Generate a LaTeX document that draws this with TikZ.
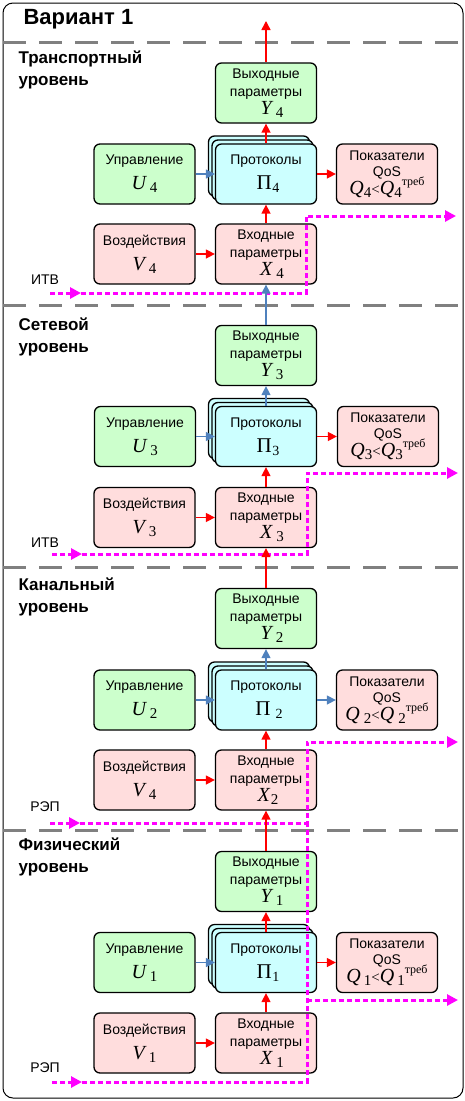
\documentclass[tikz,border=0pt]{standalone}
\usepackage{fontspec}
\setmainfont{Liberation Sans}
\newfontfamily\tnr{Liberation Serif}
\usetikzlibrary{arrows.meta}

\definecolor{grn}{HTML}{CCFFCC}
\definecolor{pnk}{HTML}{FFDDDD}
\definecolor{cyn}{HTML}{CCFFFF}
\definecolor{blu}{HTML}{4F81BD}
\definecolor{mgn}{HTML}{FF00FF}

% variable with a subscript, like Y_4
\newcommand{\vr}[3][4pt]{{\tnr\fontsize{20}{20}\selectfont\itshape #2}\hspace{#1}\raisebox{-3pt}{\tnr\fontsize{15}{15}\selectfont #3}}
% protocol symbol
\newcommand{\prt}[2][0.5pt]{{\tnr\fontsize{21}{21}\selectfont Π}\hspace{#1}\raisebox{-3pt}{\tnr\fontsize{14}{14}\selectfont #2}}
% QoS requirement
\newcommand{\qreq}[2][0pt]{\vr[#1]{Q}{#2}{\tnr\fontsize{15}{15}\selectfont<}\vr[#1]{Q}{#2}\raisebox{9pt}{\tnr\fontsize{12}{12}\selectfont треб}}

\begin{document}
\begin{tikzpicture}[x=1pt,y=-1pt,
    box/.style={draw, line width=1.3pt, rounded corners=6pt, minimum width=101pt,
        minimum height=60pt, inner sep=0pt, align=center, font=\fontsize{14}{18}\selectfont},
    gbox/.style={box, fill=grn},
    rbox/.style={box, fill=pnk},
    cbox/.style={box, fill=cyn},
    ra/.style={red, line width=1.5pt, -{Triangle[length=9pt,width=9pt]}},
    ba/.style={blu, line width=1.5pt, -{Triangle[length=9pt,width=9pt]}},
    mg/.style={mgn, line width=3pt, dash pattern=on 5pt off 3pt},
    mga/.style={mg, -{Triangle[length=11pt,width=11pt]}},
    sep/.style={gray, line width=3pt, dash pattern=on 23pt off 13pt},
    level/.style={anchor=north west, align=left, font=\bfseries\fontsize{17}{22}\selectfont},
    src/.style={font=\fontsize{14}{16}\selectfont}]

\useasboundingbox (0,0) rectangle (464,1101);
\draw[line width=1pt, rounded corners=10pt] (3,3) rectangle (463,1098);

\node[anchor=west, font=\bfseries\fontsize{22}{24}\selectfont] (title) at (20,19) {Вариант 1};

\draw[sep] (3,42) -- (464,42);
\draw[sep] (3,305) -- (464,305);
\draw[sep] (3,567) -- (464,567);
\draw[sep] (3,830) -- (464,830);

% transport level
\node[level] (lev4) at (15,47) {Транспортный\\уровень};
\node[gbox] (y4) at (266,93) {Выходные\\параметры\\\hspace*{12pt}\vr{Y}{4}};
\node[cbox] (pi4a) at (259,166) {};
\node[cbox] (pi4b) at (262.5,170) {};
\node[cbox] (pi4) at (266,174) {Протоколы\\[7pt]\hspace*{4pt}\prt{4}};
\node[gbox] (u4) at (144.5,174) {Управление\\[7pt]\vr{U}{4}};
\node[rbox] (q4) at (387,174) {Показатели\\[-2pt]QoS\\[-3pt]\qreq{4}};
\node[rbox] (v4) at (144.5,254) {Воздействия\\[7pt]\vr{V}{4}};
\node[rbox] (x4) at (266,254) {Входные\\параметры\\\hspace*{12pt}\vr{X}{4}};
\coordinate (top) at (266,21);

\draw[ra] (y4) -- (top);
\draw[ra] (pi4) -- (y4);
\draw[ba] (u4) -- (pi4);
\draw[ra] (pi4) -- (q4);
\draw[ra] (x4) -- (pi4);
\draw[ra] (v4) -- (x4);

\node[src] (itv4) at (45,280) {ИТВ};
\coordinate (m4a) at (50,293);
\coordinate (m4b) at (81,293);
\coordinate (m4c) at (306,293);
\coordinate (m4d) at (306,216);
\coordinate (m4e) at (456,216);
\draw[mga] (m4a) -- (m4b);
\draw[mga] (m4b) -- (m4c) -- (m4d) -- (m4e);

% network level
\node[level] (lev3) at (15,314) {Сетевой\\уровень};
\node[gbox] (y3) at (266,355.5) {Выходные\\параметры\\\hspace*{12pt}\vr{Y}{3}};
\node[cbox] (pi3a) at (259,428.5) {};
\node[cbox] (pi3b) at (262.5,432.5) {};
\node[cbox] (pi3) at (266,436.5) {Протоколы\\[7pt]\hspace*{4pt}\prt{3}};
\node[gbox] (u3) at (145,436.5) {Управление\\[7pt]\vr{U}{3}};
\node[rbox] (q3) at (388,436.5) {Показатели\\[-2pt]QoS\\[-3pt]\qreq{3}};
\node[rbox] (v3) at (144.5,517.5) {Воздействия\\[7pt]\vr{V}{3}};
\node[rbox] (x3) at (266,517.5) {Входные\\параметры\\\hspace*{12pt}\vr{X}{3}};

\draw[ba] (y3) -- (x4);
\draw[ba] (pi3) -- (y3);
\draw[ba] (u3) -- (pi3);
\draw[ra] (pi3) -- (q3);
\draw[ra] (x3) -- (pi3);
\draw[ra] (v3) -- (x3);

\node[src] (itv3) at (45,543) {ИТВ};
\coordinate (m3a) at (52,554);
\coordinate (m3b) at (82,554);
\coordinate (m3c) at (307,554);
\coordinate (m3d) at (307,473);
\coordinate (m3e) at (458,473);
\draw[mga] (m3a) -- (m3b);
\draw[mga] (m3b) -- (m3c) -- (m3d) -- (m3e);

% channel level
\node[level] (lev2) at (15,574) {Канальный\\уровень};
\node[gbox] (y2) at (266,618.5) {Выходные\\параметры\\\hspace*{12pt}\vr{Y}{2}};
\node[cbox] (pi2a) at (259,692) {};
\node[cbox] (pi2b) at (262.5,696) {};
\node[cbox] (pi2) at (266,700) {Протоколы\\[7pt]\hspace*{6pt}\prt[5pt]{2}};
\node[gbox] (u2) at (144.5,700) {Управление\\[7pt]\vr{U}{2}};
\node[rbox] (q2) at (387,700) {Показатели\\[-2pt]QoS\\[-3pt]\qreq[4pt]{2}};
\node[rbox] (v2) at (144.5,780) {Воздействия\\[7pt]\vr{V}{4}};
\node[rbox] (x2) at (266,780) {Входные\\параметры\\\hspace*{4pt}\vr[1pt]{X}{2}};

\draw[ra] (y2) -- (x3);
\draw[ba] (pi2) -- (y2);
\draw[ba] (u2) -- (pi2);
\draw[ba] (pi2) -- (q2);
\draw[ra] (x2) -- (pi2);
\draw[ra] (v2) -- (x2);

\node[src] (rep2) at (45,807) {РЭП};
\coordinate (m2a) at (50,823);
\coordinate (m2b) at (80,823);
\coordinate (m2c) at (307,823);
\coordinate (m2d) at (307,742);
\coordinate (m2e) at (458,742);
\draw[mga] (m2a) -- (m2b);
\draw[mga] (m2b) -- (m2c) -- (m2d) -- (m2e);

% physical level
\node[level] (lev1) at (15,834) {Физический\\уровень};
\node[gbox] (y1) at (266,881.5) {Выходные\\параметры\\\hspace*{12pt}\vr{Y}{1}};
\node[cbox] (pi1a) at (259,954.5) {};
\node[cbox] (pi1b) at (262.5,958.5) {};
\node[cbox] (pi1) at (266,962.5) {Протоколы\\[7pt]\hspace*{4pt}\prt{1}};
\node[gbox] (u1) at (144.5,962.5) {Управление\\[7pt]\vr{U}{1}};
\node[rbox] (q1) at (387,962.5) {Показатели\\[-2pt]QoS\\[-3pt]\qreq[3pt]{1}};
\node[rbox] (v1) at (144.5,1043) {Воздействия\\[7pt]\vr{V}{1}};
\node[rbox] (x1) at (266,1043) {Входные\\параметры\\\hspace*{12pt}\vr{X}{1}};

\draw[ra] (y1) -- (x2);
\draw[ra] (pi1) -- (y1);
\draw[ba] (u1) -- (pi1);
\draw[ra] (pi1) -- (q1);
\draw[ra] (x1) -- (pi1);
\draw[ra] (v1) -- (x1);

\node[src] (rep1) at (45,1068) {РЭП};
\coordinate (m1a) at (52,1082);
\coordinate (m1b) at (82,1082);
\coordinate (m1c) at (307,1082);
\coordinate (m1d) at (307,1000);
\coordinate (m1e) at (458,1000);
\draw[mga] (m1a) -- (m1b);
\draw[mg] (m1b) -- (m1c) -- (m2c);
\draw[mga] (m1d) -- (m1e);
\end{tikzpicture}
\end{document}
